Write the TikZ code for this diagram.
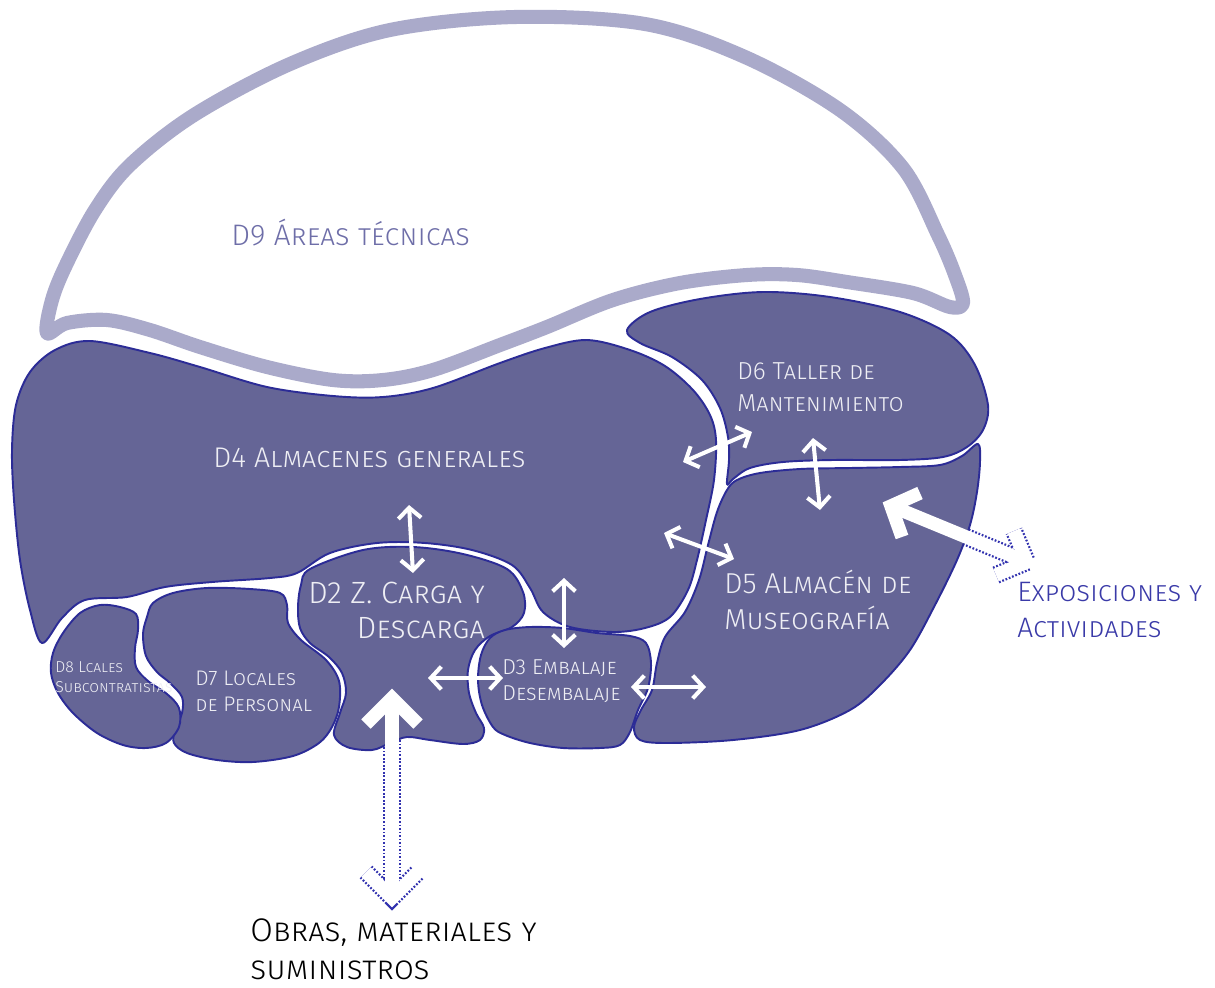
\documentclass[tikz,border=0pt]{standalone}
\usepackage{fontspec}
\setmainfont{Fira Sans Light}
\usetikzlibrary{arrows.meta}

\definecolor{zonafill}{RGB}{101,101,150}
\definecolor{zonaline}{RGB}{44,44,150}
\definecolor{trama}{RGB}{170,170,202}
\definecolor{rotulo}{RGB}{238,238,244}
\definecolor{exterior}{RGB}{58,58,168}
\definecolor{tecnica}{RGB}{110,110,168}
\definecolor{punteado}{RGB}{50,50,175}

\begin{document}
\begin{tikzpicture}[x=0.02cm,y=-0.02cm,
    zona/.style={fill=zonafill,draw=zonaline,line width=1.1pt,line join=round},
    flujo/.style={draw=white,line width=2.3pt,<->,>={Straight Barb[length=6pt,width=13pt]}},
    borde/.style={draw=punteado,line width=10.2pt,dash pattern=on 1pt off 1pt,line join=miter},
    cuerpo/.style={draw=white,line width=7.6pt,line join=miter},
    rot/.style={text=rotulo,anchor=base west,inner sep=0pt,align=left}]
  \useasboundingbox (0,0) rectangle (1215,988);

  % D9 areas tecnicas
  \draw[trama,line width=8pt,line join=round]
    plot[smooth cycle,tension=0.55] coordinates {
      (47,333) (52,300) (66,265) (95,210) (130,165) (194,115) (290,64)
      (390,30) (515,17) (645,24) (745,57) (840,110) (903,168) (938,235)
      (955,275) (963,303) (950,307) (913,293) (847,282) (797,275) (747,275)
      (680,283) (613,300) (547,327) (500,345) (433,370) (383,380) (333,380)
      (267,367) (200,347) (150,330) (107,320) (67,323)};

  % puntos de los flujos
  \coordinate (obrasin) at (392,698);
  \coordinate (obrasout) at (392,898);
  \coordinate (expoin) at (891,506);
  \coordinate (expoout) at (1027,562);

  % borde punteado de los flujos exteriores
  \draw[borde] (obrasin) -- (obrasout);
  \draw[borde] (366,872) -- (obrasout) -- (418,872);
  \draw[borde] (expoin) -- (expoout);
  \draw[borde] (996,575) -- (expoout) -- (1014,531);

  % zonas
  \draw[zona] plot[smooth cycle,tension=0.55] coordinates {
    (42,643) (30,610) (20,560) (14,500) (12,450) (16,405) (30,372) (55,350)
    (90,341) (150,353) (200,367) (267,387) (333,396) (383,397) (433,388)
    (500,363) (545,348) (587,340) (630,350) (665,366) (693,390) (710,415)
    (716,440) (714,480) (706,520) (697,560) (688,590) (670,617) (645,628)
    (613,632) (570,627) (543,612) (530,588) (512,565) (472,550) (425,543)
    (377,543) (330,553) (297,573) (270,578) (212,582) (165,587) (127,597)
    (85,600) (62,618)};
  \draw[zona] plot[smooth cycle,tension=0.55] coordinates {
    (627,330) (650,312) (700,299) (763,292) (830,297) (900,312) (950,335)
    (975,365) (988,405) (983,430) (967,447) (943,457) (900,460) (833,460)
    (783,462) (750,468) (733,479) (727,484) (729,460) (728,437) (720,408)
    (702,380) (672,357) (640,343)};
  \draw[zona] plot[smooth cycle,tension=0.55] coordinates {
    (737,480) (760,473) (800,469) (850,468) (900,467) (940,465) (962,456)
    (978,444) (980,462) (977,492) (970,525) (957,560) (935,605) (910,650)
    (880,685) (850,710) (800,730) (733,740) (667,743) (640,740) (634,727)
    (641,710) (652,690) (657,663) (665,637) (685,612) (699,580) (708,545)
    (717,512) (727,490)};
  \draw[zona] plot[smooth cycle,tension=0.55] coordinates {
    (310,569) (363,550) (413,547) (463,554) (507,569) (523,592) (524,613)
    (512,627) (490,636) (475,650) (468,670) (469,693) (476,713) (484,728)
    (480,740) (463,744) (430,740) (407,737) (390,743) (372,750) (347,747)
    (334,735) (340,713) (346,693) (342,673) (329,657) (310,643) (300,628)
    (298,607) (301,585)};
  \draw[zona] plot[smooth cycle,tension=0.55] coordinates {
    (490,638) (505,630) (530,627) (563,628) (597,633) (630,636) (646,643)
    (651,663) (648,688) (638,710) (630,732) (620,745) (600,748) (563,748)
    (530,743) (505,735) (493,727) (482,705) (478,680) (481,655)};
  \draw[zona] plot[smooth cycle,tension=0.55] coordinates {
    (153,603) (173,593) (207,588) (250,589) (280,593) (287,605) (288,623)
    (301,640) (326,660) (339,681) (339,707) (332,727) (319,743) (293,756)
    (253,762) (217,760) (187,753) (174,743) (175,730) (182,713) (182,697)
    (170,683) (157,672) (146,656) (143,634) (147,617)};
  \draw[zona] plot[smooth cycle,tension=0.55] coordinates {
    (53,653) (63,633) (80,613) (100,605) (120,607) (136,614) (138,630)
    (135,648) (136,667) (148,681) (167,694) (179,708) (179,727) (166,743)
    (146,748) (123,745) (97,733) (73,713) (58,693) (51,673)};

  % cuerpo blanco de los flujos exteriores
  \draw[cuerpo] (obrasin) -- (obrasout);
  \draw[cuerpo] (366,724) -- (obrasin) -- (418,724);
  \draw[cuerpo] (366,872) -- (obrasout) -- (418,872);
  \draw[cuerpo] (expoin) -- (expoout);
  \draw[cuerpo] (902,537) -- (expoin) -- (920,493);
  \draw[cuerpo] (996,575) -- (expoout) -- (1014,531);

  % flujos entre zonas
  \coordinate (d4d6a) at (683,462);
  \coordinate (d4d6b) at (752,432);
  \coordinate (d4d2a) at (409,505);
  \coordinate (d4d2b) at (413,573);
  \coordinate (d6d5a) at (813,438);
  \coordinate (d6d5b) at (820,510);
  \coordinate (d4d5a) at (664,533);
  \coordinate (d4d5b) at (734,559);
  \coordinate (d4d3a) at (564,578);
  \coordinate (d4d3b) at (564,648);
  \coordinate (d2d3a) at (428,678);
  \coordinate (d2d3b) at (503,678);
  \coordinate (d3d5a) at (631,687);
  \coordinate (d3d5b) at (706,687);
  \draw[flujo] (d4d6a) -- (d4d6b);
  \draw[flujo] (d4d2a) -- (d4d2b);
  \draw[flujo] (d6d5a) -- (d6d5b);
  \draw[flujo] (d4d5a) -- (d4d5b);
  \draw[flujo] (d4d3a) -- (d4d3b);
  \draw[flujo] (d2d3a) -- (d2d3b);
  \draw[flujo] (d3d5a) -- (d3d5b);

  % rotulos (base = ultima linea)
  \node[rot,text=tecnica,font=\fontsize{16.9}{18}\selectfont\scshape] (d9) at (231,245) {D9 Áreas técnicas};
  \node[rot,font=\fontsize{16.2}{18}\selectfont\scshape] (d4) at (213,467) {D4 Almacenes generales};
  \node[rot,font=\fontsize{14}{18.1}\selectfont\scshape] (d6) at (737,411) {D6 Taller de\\Mantenimiento};
  \node[rot,font=\fontsize{16.4}{20.4}\selectfont\scshape] (d5) at (724,629) {D5 Almacén de\\Museografía};
  \node[rot,align=right,font=\fontsize{17.5}{19.8}\selectfont\scshape] (d2) at (308,638) {D2 Z. Carga y\\Descarga};
  \node[rot,font=\fontsize{12.3}{14.7}\selectfont\scshape] (d3) at (502,700) {D3 Embalaje\\Desembalaje};
  \node[rot,font=\fontsize{12}{14.7}\selectfont\scshape] (d7) at (195,711) {D7 Locales\\de Personal};
  \node[rot,font=\fontsize{9}{11.3}\selectfont\scshape] (d8) at (55,692) {D8 Lcales\\Subcontratistas};
  \node[rot,text=exterior,font=\fontsize{16}{20.4}\selectfont\scshape] (expo) at (1017,637) {Exposiciones y\\Actividades};
  \node[rot,text=black,font=\fontsize{18.6}{21.3}\selectfont\scshape] (obras) at (250,979) {Obras, materiales y\\suministros};
\end{tikzpicture}
\end{document}
